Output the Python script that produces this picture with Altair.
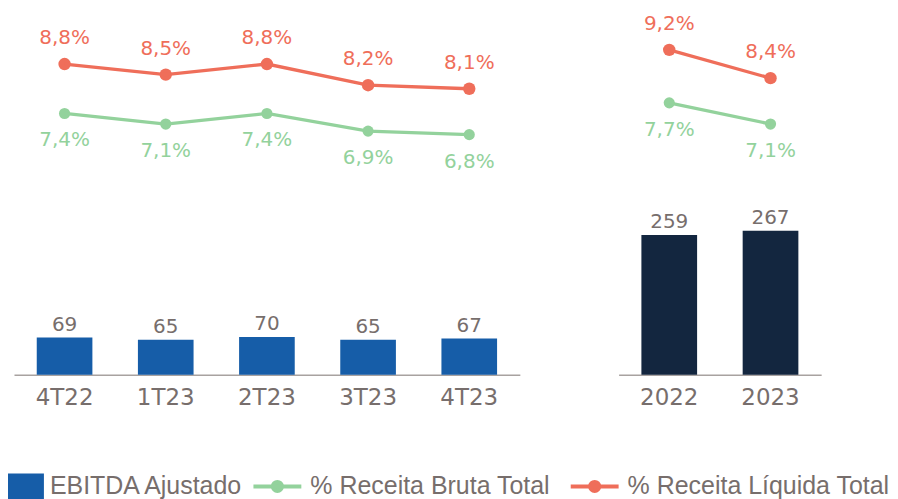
import altair as alt
import pandas as pd

# ---- data ----
quarters = ["4T22", "1T23", "2T23", "3T23", "4T23"]
ebitda_q = [69, 65, 70, 65, 67]
bruta_q = [7.4, 7.1, 7.4, 6.9, 6.8]
liquida_q = [8.8, 8.5, 8.8, 8.2, 8.1]

years = ["2022", "2023"]
ebitda_y = [259, 267]
bruta_y = [7.7, 7.1]
liquida_y = [9.2, 8.4]

BAR_NAME = "EBITDA Ajustado"
S_BRUTA = "% Receita Bruta Total"
S_LIQ = "% Receita Líquida Total"
SERIES = [S_BRUTA, S_LIQ]

BLUE = "#165DA8"
NAVY = "#13263F"
RED = "#EF6E5A"
GREEN = "#93D29C"
GRAY = "#776E6C"
AXIS = "#A8A2A0"

FONT = "DejaVu Sans"
LFONT = "Liberation Sans"

line_scale = alt.Scale(domain=SERIES, range=[GREEN, RED])

legA = alt.Legend(
    orient="none", legendX=-6, legendY=456, direction="horizontal", title=None,
    symbolType="M-1,-0.72H1V0.72H-1Z", symbolSize=1296, symbolStrokeWidth=0,
    labelFont=LFONT, labelFontSize=25, labelColor=GRAY, labelOffset=6, labelLimit=0,
)
LINE_SYMBOL = ("M-1,0H1M0.19,0A0.19,0.19,0,1,1,-0.19,0A0.19,0.19,0,1,1,0.19,0Z")
legB = alt.Legend(
    orient="none", legendX=238, legendY=448, direction="horizontal", title=None,
    symbolType=LINE_SYMBOL, symbolSize=2304, symbolStrokeWidth=4,
    labelFont=LFONT, labelFontSize=25, labelColor=GRAY, labelOffset=7,
    columnPadding=12, labelLimit=0,
)


def panel(cats, bvals, bruta, liq, width, first):
    bdf = pd.DataFrame({"cat": cats, "v": bvals, "s": [BAR_NAME] * len(cats)})
    ldf = pd.DataFrame({
        "cat": cats * 2,
        "p": bruta + liq,
        "serie": [S_BRUTA] * len(cats) + [S_LIQ] * len(cats),
    })
    x = alt.X(
        "cat:N", sort=cats,
        scale=alt.Scale(paddingInner=0.45, paddingOuter=0.225),
        axis=alt.Axis(title=None, ticks=False, labelAngle=0, labelFont=FONT,
                      labelFontSize=23, labelColor=GRAY, labelPadding=12,
                      domainColor=AXIS, domainWidth=1.5, grid=False),
    )
    yb = alt.Y("v:Q", scale=alt.Scale(domain=[0, 670]), axis=None)
    yl = alt.Y("p:Q", scale=alt.Scale(domain=[0, 10.23]), axis=None)

    if first:
        bar = alt.Chart(bdf).mark_bar().encode(
            x=x, y=yb,
            color=alt.Color("s:N", scale=alt.Scale(domain=[BAR_NAME], range=[BLUE]), legend=legA),
        )
    else:
        bar = alt.Chart(bdf).mark_bar(color=NAVY).encode(x=x, y=yb)

    btext = alt.Chart(bdf).mark_text(
        font=FONT, fontSize=20, color=GRAY, baseline="alphabetic", dy=-7
    ).encode(x=x, y=yb, text="v:Q")

    base = alt.Chart(ldf).transform_calculate(
        lab="replace(format(datum.p, '.1f'), '.', ',') + '%'"
    )
    fill = alt.Fill("serie:N", scale=line_scale, legend=legB)
    pts_g = base.transform_filter(alt.datum.serie == S_BRUTA).mark_circle(
        opacity=1, size=125).encode(x=x, y=yl, fill=fill)
    pts_r = base.transform_filter(alt.datum.serie == S_LIQ).mark_circle(
        opacity=1, size=155).encode(x=x, y=yl, fill=fill)
    ln = base.mark_line(strokeWidth=3.3).encode(
        x=x, y=yl, stroke=alt.Stroke("serie:N", scale=line_scale, legend=legB))
    tr = base.transform_filter(alt.datum.serie == S_LIQ).mark_text(
        font=FONT, fontSize=20, color=RED, baseline="alphabetic", dy=-20
    ).encode(x=x, y=yl, text="lab:N")
    tg = base.transform_filter(alt.datum.serie == S_BRUTA).mark_text(
        font=FONT, fontSize=20, color=GREEN, baseline="alphabetic", dy=33
    ).encode(x=x, y=yl, text="lab:N")

    return alt.layer(bar, btext, pts_g, pts_r, ln, tr, tg).resolve_scale(
        y="independent").properties(width=width, height=362)


left = panel(quarters, ebitda_q, bruta_q, liquida_q, 507, True)
right = panel(years, ebitda_y, bruta_y, liquida_y, 203, False)

chart = alt.hconcat(left, right, spacing=99).properties(
    padding={"left": 0, "top": 5, "right": 0, "bottom": 0},
    background="white",
).configure_view(stroke=None)

chart.save("out.html", embed_options={"renderer": "svg", "actions": False})
